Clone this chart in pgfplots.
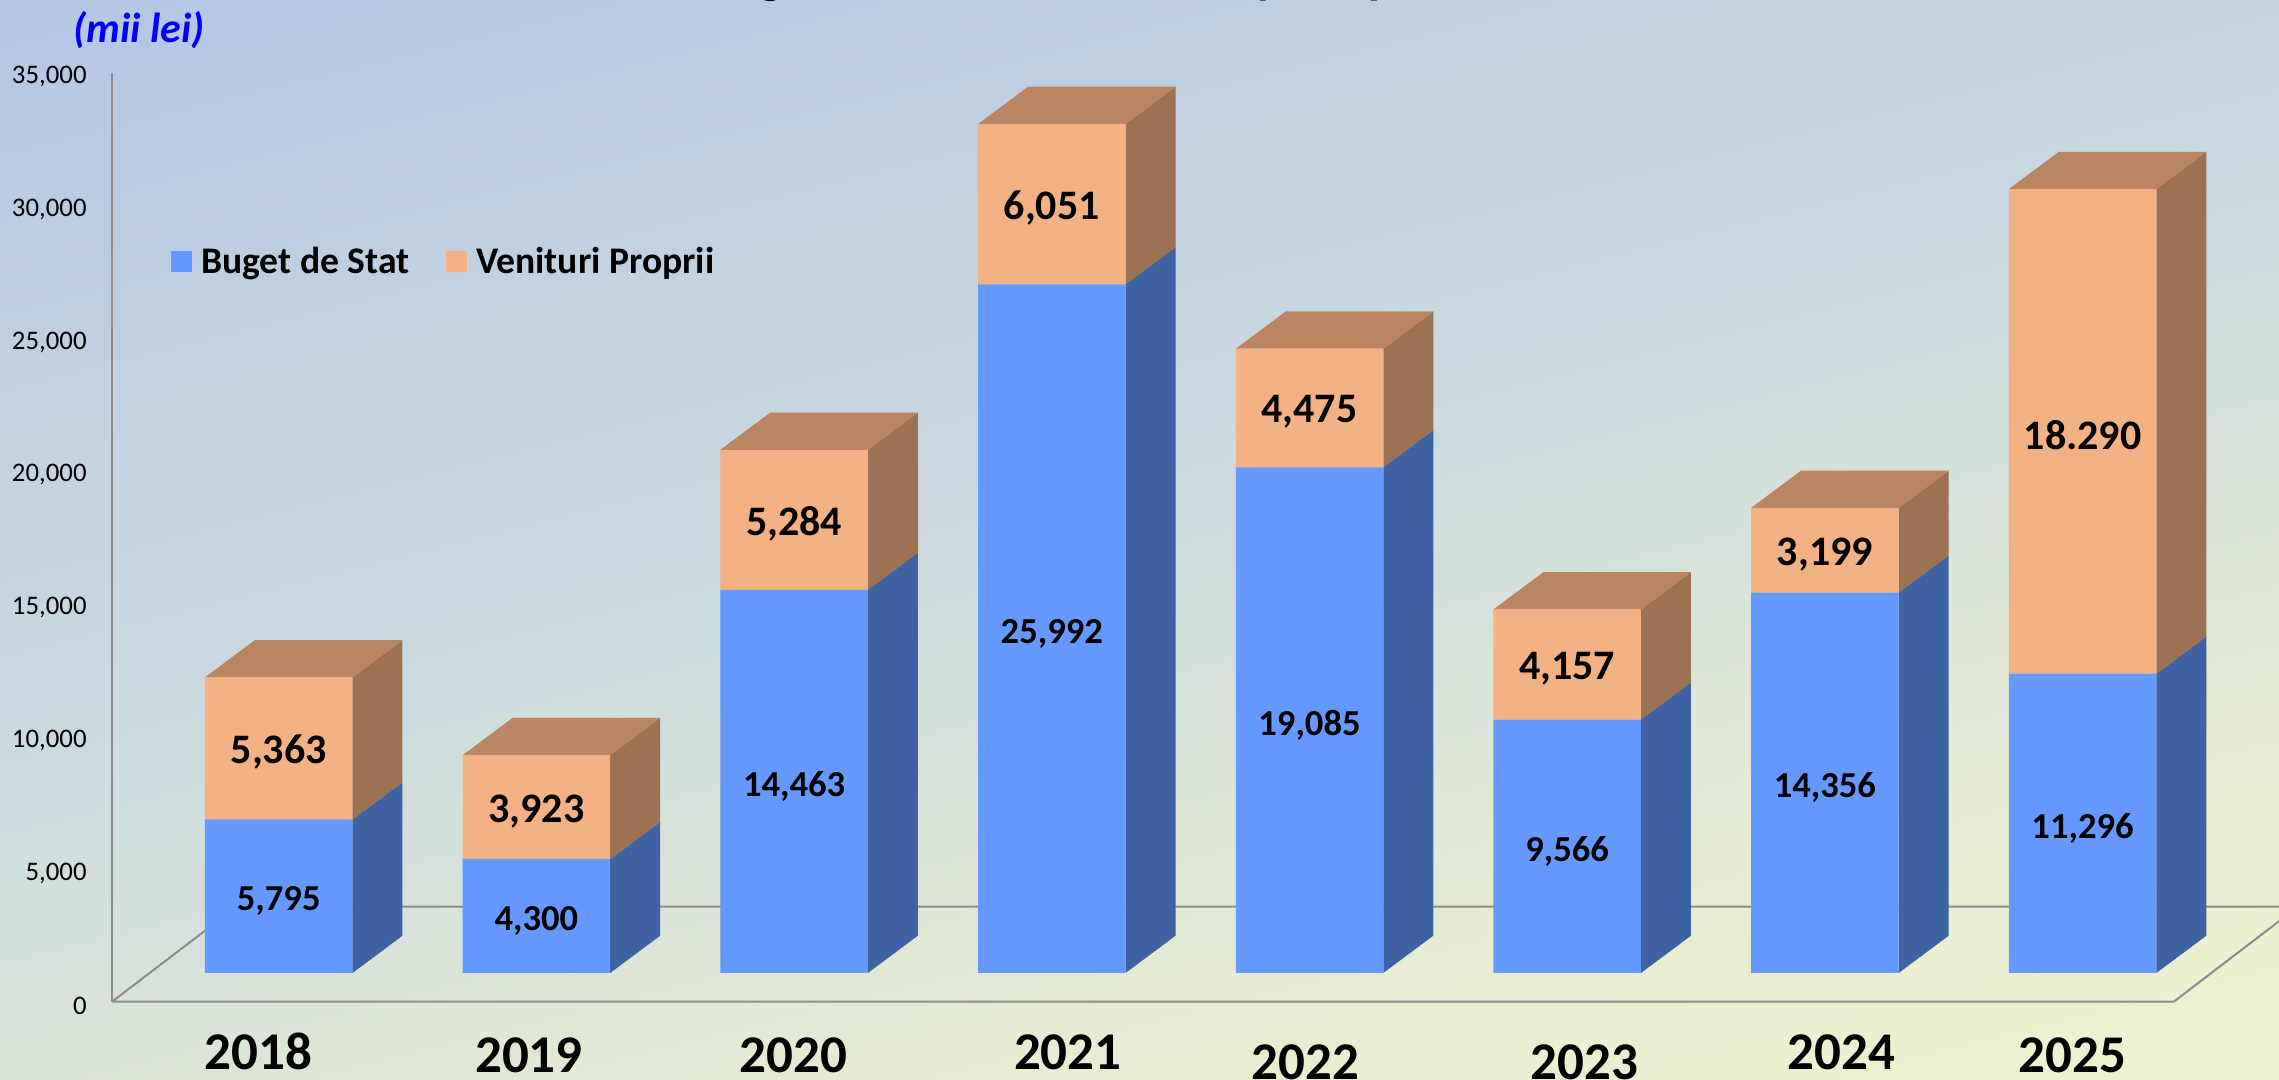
\documentclass[border=0pt]{standalone}
\usepackage{pgfplots}
\pgfplotsset{compat=1.18}
\usepackage{pgfplotstable}
\usepackage{fontspec}
\setmainfont{Carlito}
\definecolor{fblue}{HTML}{6699FF}
\definecolor{sblue}{HTML}{3F62A3}
\definecolor{forange}{HTML}{F4B183}
\definecolor{sorange}{HTML}{9C7254}
\definecolor{torange}{HTML}{BA8562}
\definecolor{gridgray}{HTML}{8C8C8C}
\definecolor{bga}{HTML}{A9BDE7}
\definecolor{bgb}{HTML}{CDDCDE}
\definecolor{bgm}{HTML}{E6ECD2}
\definecolor{bgc}{HTML}{F8F9CF}
\pgfdeclareverticalshading{bgshade}{100bp}{color(0bp)=(bgc); color(35.8bp)=(bgc); color(44.3bp)=(bgm); color(50bp)=(bgb); color(64.2bp)=(bga); color(100bp)=(bga)}
\pgfplotstableread{
x b o lb lo bm om
0 5795 5363 5,795 5,363 2897.5 8476.5
1 4300 3923 4,300 3,923 2150 6261.5
2 14463 5284 14,463 5,284 7231.5 17105
3 25992 6051 25,992 6,051 12996 29017.5
4 19085 4475 19,085 4,475 9542.5 21322.5
5 9566 4157 9,566 4,157 4783 11644.5
6 14356 3199 14,356 3,199 7178 15955.5
7 11296 18290 11,296 18.290 5648 20441
}\datatable
\pgfplotsset{
  common/.style={
    scale only axis, width=1083.5pt, height=464.35pt,
    at={(56pt,39.15pt)}, anchor=south west,
    xmin=-0.647, xmax=7.762, clip=false,
  },
  bars/.style={common, hide axis, ymin=-1083.3, ymax=33966.7},
}
\begin{document}
\begin{tikzpicture}
\useasboundingbox (0,0) rectangle (1139.5pt,540pt);
\clip (0,0) rectangle (1139.5pt,540pt);
\shade[shading=bgshade, shading angle=14] (-430.25pt,-730pt) rectangle (1569.75pt,1270pt);
% frame, ticks, floor
\begin{axis}[common, ymin=0, ymax=35000,
    axis y line=left, axis x line=bottom,
    axis line style={-, draw=gridgray, line width=1pt},
    x axis line style={draw=none},
    major tick length=0pt,
    ytick={0,5000,...,35000},
    scaled y ticks=false,
    /pgf/number format/assume math mode=true,
    /pgf/number format/1000 sep={,},
    yticklabel style={inner sep=0pt, xshift=-12.5pt, yshift=-2pt, font=\fontsize{13.4}{15}\selectfont},
    xticklabel style={inner sep=0pt, font=\fontsize{26.5}{30}\selectfont\bfseries},
    xtick={-0.08,0.971,1.998,3.062,3.983,5.066,6.063,6.961},
    xticklabels={
      \raisebox{-33.15pt}[0pt][0pt]{2018},
      \raisebox{-34.65pt}[0pt][0pt]{2019},
      \raisebox{-34.65pt}[0pt][0pt]{2020},
      \raisebox{-33.15pt}[0pt][0pt]{2021},
      \raisebox{-38.15pt}[0pt][0pt]{2022},
      \raisebox{-38.15pt}[0pt][0pt]{2023},
      \raisebox{-33.15pt}[0pt][0pt]{2024},
      \raisebox{-34.65pt}[0pt][0pt]{2025}},
  ]
  \addplot[draw=gridgray, line width=1pt, forget plot] coordinates
    {(-0.647,0) (7.354,0) (7.836,3580) (-0.164,3580) (-0.647,0)};
\end{axis}
% side and top faces of the bars
\begin{axis}[bars]
  \foreach \i/\b/\o in {0/5795/5363,1/4300/3923,2/14463/5284,3/25992/6051,4/19085/4475,5/9566/4157,6/14356/3199,7/11296/18290}{
    \pgfmathsetmacro\xl{\i-0.2862}
    \pgfmathsetmacro\xr{\i+0.2862}
    \pgfmathsetmacro\xbl{\i-0.0922}
    \pgfmathsetmacro\xbr{\i+0.4802}
    \edef\yb{\the\numexpr\b+1406\relax}
    \edef\yt{\the\numexpr\b+\o\relax}
    \edef\yT{\the\numexpr\b+\o+1406\relax}
    \edef\cmd{
      \noexpand\addplot[fill=sblue, draw=none, forget plot] coordinates {(\xr,0) (\xbr,1406) (\xbr,\yb) (\xr,\b) (\xr,0)};
      \noexpand\addplot[fill=sorange, draw=none, forget plot] coordinates {(\xr,\b) (\xbr,\yb) (\xbr,\yT) (\xr,\yt) (\xr,\b)};
      \noexpand\addplot[fill=torange, draw=none, forget plot] coordinates {(\xl,\yt) (\xbl,\yT) (\xbr,\yT) (\xr,\yt) (\xl,\yt)};
    }
    \cmd
  }
\end{axis}
% front faces
\begin{axis}[bars, ybar stacked, bar width=73.75pt,
    legend columns=2,
    legend style={at={(0.0272,0.7965)}, anchor=west, draw=none, fill=none, inner sep=0pt,
      font=\fontsize{18.8}{22}\selectfont\bfseries,
      /tikz/every odd column/.append style={column sep=2.4pt},
      /tikz/every even column/.append style={column sep=16.5pt}},
    legend cell align=left,
    legend image code/.code={\fill[#1] (0pt,-5.25pt) rectangle (10.5pt,5.25pt);},
  ]
  \addplot[fill=fblue, draw=none] table[x=x,y=b] {\datatable};
  \addplot[fill=forange, draw=none] table[x=x,y=o] {\datatable};
  \legend{Buget de Stat,Venituri Proprii}
\end{axis}
% data labels
\begin{axis}[bars]
  \addplot[draw=none, mark=none, nodes near coords, point meta=explicit symbolic,
     every node near coord/.append style={anchor=center, yshift=-2.5pt, inner sep=0pt, text=black, font=\fontsize{18.3}{20}\selectfont\bfseries}]
     table[x=x,y=bm,meta=lb] {\datatable};
  \addplot[draw=none, mark=none, nodes near coords, point meta=explicit symbolic,
     every node near coord/.append style={anchor=center, yshift=-2pt, inner sep=0pt, text=black, font=\fontsize{21}{24}\selectfont\bfseries}]
     table[x=x,y=om,meta=lo] {\datatable};
\end{axis}
% unit and the cut-off title
\node[text=blue, font=\fontsize{21}{24}\selectfont\bfseries\itshape, inner sep=0pt] at (69.5pt,525pt) {(mii lei)};
\foreach \px/\g in {350.5/(,385.5/g,635/p,690.5/p,825.5/)}{
  \node[anchor=base, inner sep=0pt, font=\fontsize{24}{26}\selectfont\bfseries] at (\px pt,543pt) {\g};
}
\end{tikzpicture}
\end{document}
